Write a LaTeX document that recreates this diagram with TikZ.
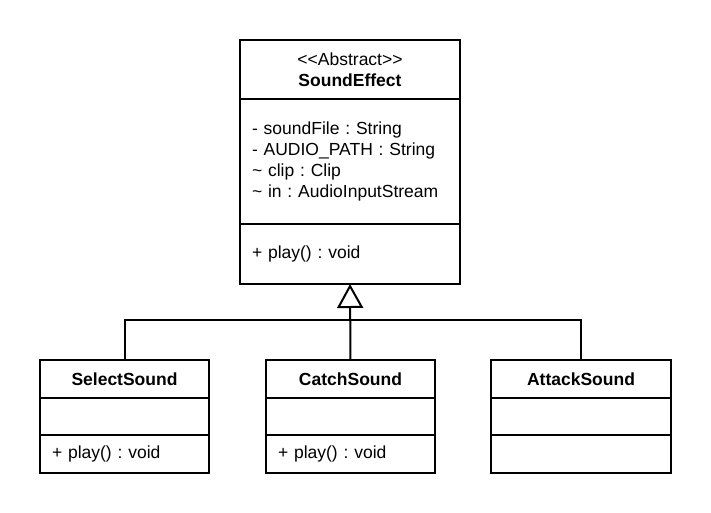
\documentclass[tikz,border=0pt]{standalone}
\usepackage{fontspec}
\setmainfont{Liberation Sans}
\usepackage{tikz}
\usetikzlibrary{arrows.meta, positioning}
\frenchspacing

\begin{document}
\begin{tikzpicture}[x=1pt, y=-1pt, line width=2pt,
  umlfont/.style={font=\fontsize{17.5}{21}\selectfont},
  classhead/.style={draw, umlfont, outer sep=0pt, inner sep=0pt, align=center},
  members/.style={draw, umlfont, outer sep=0pt, inner xsep=12pt, inner ysep=0pt, align=left},
  inherit/.style={-{Triangle[open, length=24pt, width=26pt]}}]
  \useasboundingbox (0,0) rectangle (711,513);
  \node[classhead, minimum width=220pt, minimum height=59pt, anchor=north west] (se-head) at (240,40)
    {<\kern0pt<Abstract>\kern0pt>\\ \textbf{SoundEffect}};
  \node[members, text width=196pt, minimum height=125pt, below=0pt of se-head] (se-attr)
    {- soundFile : String\\ - AUDIO\_PATH : String\\ \textasciitilde{} clip : Clip\\ \textasciitilde{} in : AudioInputStream};
  \node[members, text width=196pt, minimum height=60pt, below=0pt of se-attr] (se-ops)
    {+ play() : void};

  \node[classhead, minimum width=169pt, minimum height=38pt, anchor=north west] (ss-head) at (40,360)
    {\textbf{SelectSound}};
  \node[members, text width=145pt, minimum height=37pt, below=0pt of ss-head] (ss-attr) {};
  \node[members, text width=145pt, minimum height=38pt, below=0pt of ss-attr] (ss-ops) {+ play() : void};

  \node[classhead, minimum width=169pt, minimum height=38pt, anchor=north west] (cs-head) at (266,360)
    {\textbf{CatchSound}};
  \node[members, text width=145pt, minimum height=37pt, below=0pt of cs-head] (cs-attr) {};
  \node[members, text width=145pt, minimum height=38pt, below=0pt of cs-attr] (cs-ops) {+ play() : void};

  \node[classhead, minimum width=180pt, minimum height=38pt, anchor=north west] (as-head) at (491,360)
    {\textbf{AttackSound}};
  \node[members, text width=156pt, minimum height=37pt, below=0pt of as-head] (as-attr) {};
  \node[members, text width=156pt, minimum height=38pt, below=0pt of as-attr] (as-ops) {};

  \coordinate (join) at (350,320);
  \draw[inherit] (cs-head.north) -- (se-ops.south);
  \draw (ss-head.north) |- (join);
  \draw (as-head.north) |- (join);
\end{tikzpicture}
\end{document}
